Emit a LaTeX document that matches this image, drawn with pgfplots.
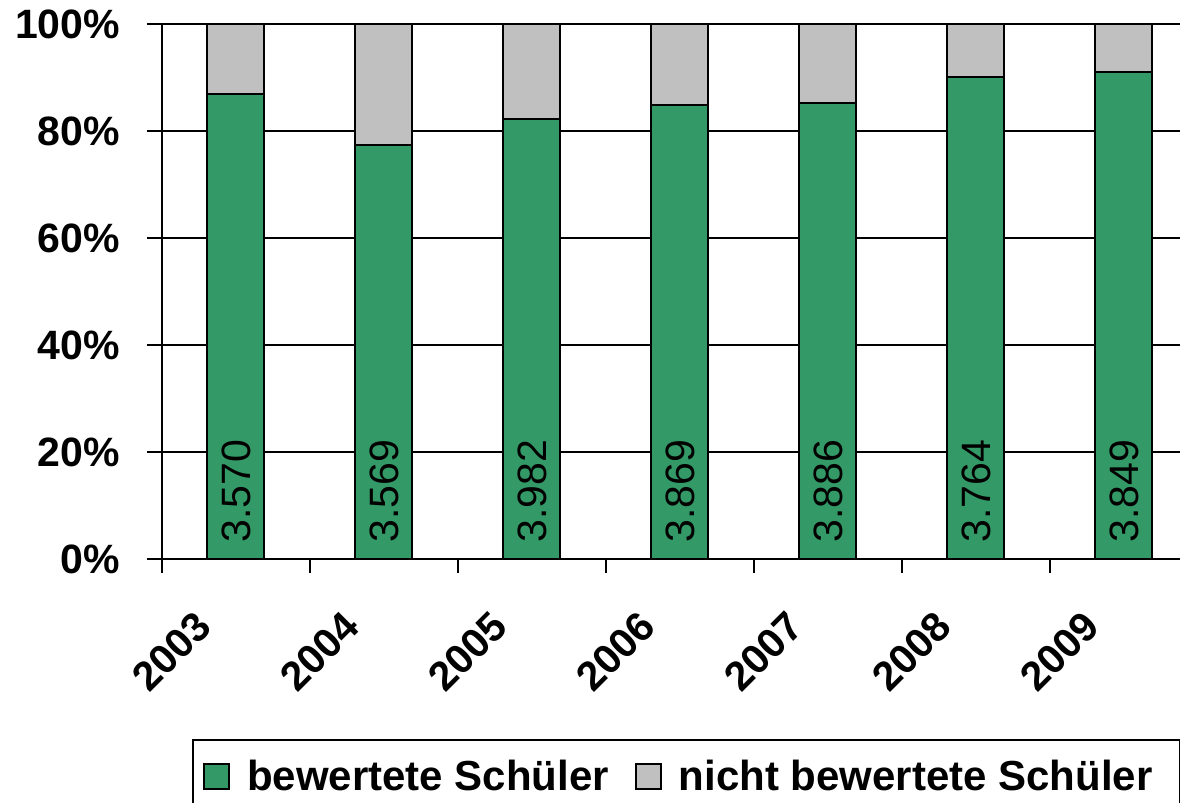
\documentclass[border=0pt]{standalone}
\usepackage{fontspec}
\setmainfont{Liberation Sans}
\usepackage{pgfplots}
\pgfplotsset{compat=1.18}
\definecolor{sgreen}{RGB}{51,153,102}
\definecolor{lgray}{RGB}{192,192,192}
\newcommand{\fs}{\fontsize{20.5}{24}\selectfont}
\begin{document}
\begin{tikzpicture}
\useasboundingbox (0,0) rectangle (590pt,401.5pt);
\clip (0,0) rectangle (590pt,401.5pt);
\begin{axis}[
  at={(81pt,122pt)}, anchor=south west,
  scale only axis, width=518pt, height=267.5pt,
  ybar stacked, bar width=28.5pt,
  xmin=-0.5, xmax=6.5, ymin=0, ymax=100,
  axis x line=bottom, axis y line=left,
  axis line style={-, line width=1pt, black},
  ytick={0,20,...,100},
  yticklabel={\pgfmathprintnumber{\tick}\%},
  yticklabel style={font=\bfseries\fs, xshift=-10pt},
  ymajorgrids, grid style={black, line width=1pt},
  xtick={0,...,6},
  xticklabels={2003,2004,2005,2006,2007,2008,2009},
  minor xtick={-0.5,0.5,...,5.5},
  major x tick style={draw=none},
  minor x tick style={black, line width=1pt},
  major y tick style={black, line width=1pt},
  tick align=outside, major tick length=7.5pt, minor tick length=7pt,
  xticklabel style={font=\bfseries\fs, xshift=-13.5pt, yshift=-20pt, rotate=45, anchor=east},
  /pgf/number format/assume math mode=true,
  legend columns=2,
  legend style={at={(0.029,-0.3364)}, anchor=north west, draw=black, line width=1pt,
    font=\bfseries\fontsize{21}{24}\selectfont, inner xsep=5pt, inner ysep=8pt,
    nodes={inner xsep=8.5pt},
    /tikz/every even column/.append style={column sep=4.5pt}},
  legend image code/.code={\draw[#1, line width=1pt] (0pt,-6.25pt) rectangle (12.5pt,6.25pt);},
]
\addplot[fill=sgreen, draw=black, line width=1pt]
  coordinates {(0,87.0) (1,77.4) (2,82.3) (3,84.8) (4,85.2) (5,90.1) (6,91.1)};
\addlegendentry{bewertete Schüler}
\addplot[fill=lgray, draw=black, line width=1pt]
  coordinates {(0,13.0) (1,22.6) (2,17.7) (3,15.2) (4,14.8) (5,9.9) (6,8.9)};
\addlegendentry{nicht bewertete Schüler}
\end{axis}
\begin{axis}[
  at={(81pt,122pt)}, anchor=south west,
  scale only axis, width=518pt, height=267.5pt,
  xmin=-0.5, xmax=6.5, ymin=0, ymax=100,
  hide axis, clip=false,
]
\addplot[draw=none, mark=none, point meta=explicit symbolic, nodes near coords,
  every node near coord/.append style={font=\fs, black, yshift=8pt, rotate=90, anchor=west, inner sep=0pt}]
  coordinates {(0,0) [3.570] (1,0) [3.569] (2,0) [3.982] (3,0) [3.869] (4,0) [3.886] (5,0) [3.764] (6,0) [3.849]};
\end{axis}
\end{tikzpicture}
\end{document}
